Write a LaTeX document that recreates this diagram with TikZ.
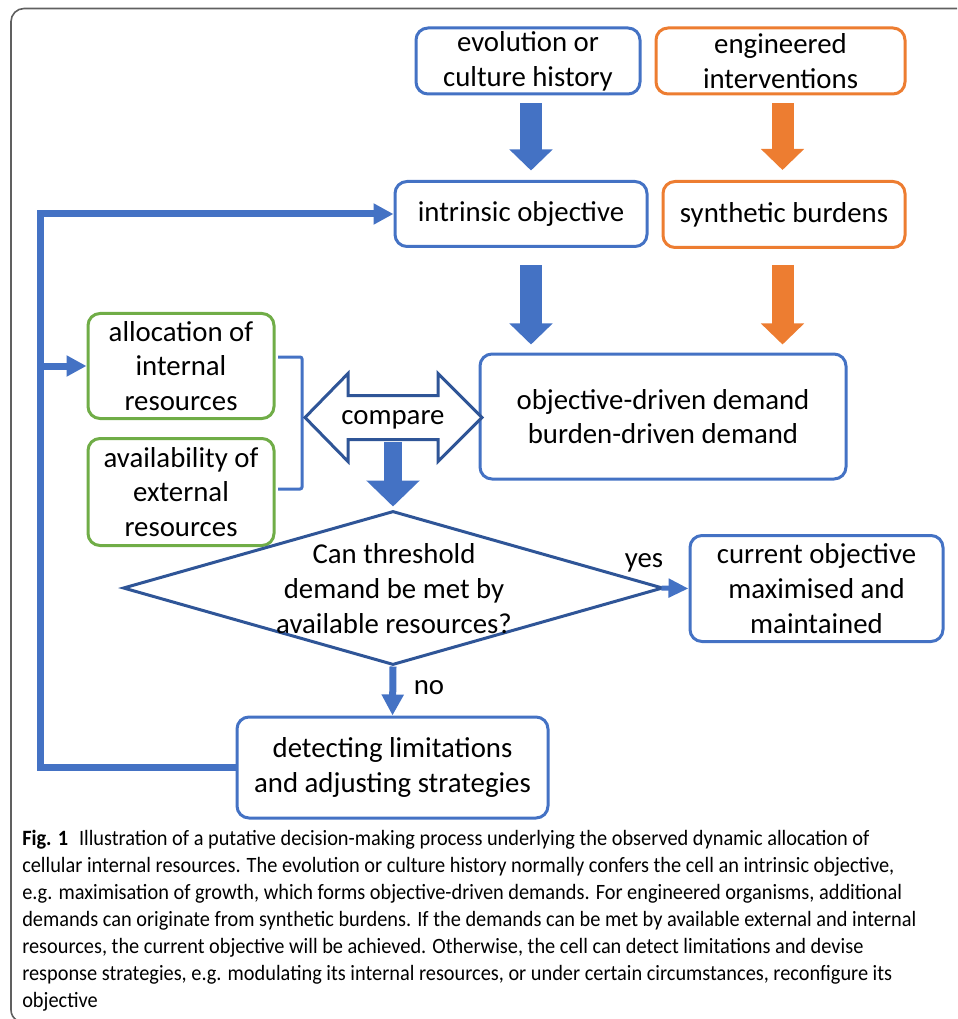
\documentclass[tikz,border=0pt]{standalone}
\usepackage{fontspec}
\setmainfont{Carlito}
\newfontfamily\capfont[FakeStretch=0.93]{Carlito}
\usetikzlibrary{arrows.meta,calc,shapes.geometric}
\definecolor{cblue}{HTML}{4472C4}
\definecolor{corange}{HTML}{ED7D31}
\definecolor{cgreen}{HTML}{70AD47}
\definecolor{cdark}{HTML}{2F5597}
\definecolor{cframe}{HTML}{606060}
\def\PX{0.75pt}
\begin{document}
\begin{tikzpicture}[x=0.75pt,y=-0.75pt,
  box/.style={draw, rounded corners=9pt, line width=2.25pt, align=center,
    font=\fontsize{21.6}{26}\selectfont, inner sep=0pt, fill=white},
  bluebox/.style={box, draw=cblue},
  orangebox/.style={box, draw=corange},
  greenbox/.style={box, draw=cgreen},
  lbl/.style={font=\fontsize{21.6}{26}\selectfont, inner sep=0pt, align=center},
  blk/.style={line width=22*\PX, -{Triangle[length=21*\PX, width=42*\PX]}},
  thinarrow/.style={cblue, line width=7*\PX, -{Triangle[length=20*\PX, width=20*\PX]}},
]
\useasboundingbox (0,0) rectangle (957,1019);
% frame
\draw[cframe, line width=1.2pt] (957,8.5) -- (24,8.5) arc[start angle=90, end angle=180, radius=9.75pt] -- (11,1010) arc[start angle=180, end angle=240, radius=9pt];

% boxes
\node[bluebox, minimum width=224*\PX, minimum height=66*\PX] (evo) at (528,61) {evolution or\\culture history};
\node[orangebox, minimum width=249*\PX, minimum height=66*\PX] (eng) at (780.5,61) {engineered\\interventions};
\node[bluebox, minimum width=252*\PX, minimum height=65*\PX] (intr) at (521,214) {intrinsic objective};
\node[orangebox, minimum width=242*\PX, minimum height=66*\PX] (synth) at (784,214.5) {synthetic burdens};
\node[bluebox, minimum width=366*\PX, minimum height=125*\PX] (demand) at (663,416.5) {objective-driven demand\\burden-driven demand};
\node[greenbox, minimum width=186*\PX, minimum height=105*\PX] (alloc) at (181,366) {allocation of\\internal\\resources};
\node[greenbox, minimum width=186*\PX, minimum height=107*\PX] (avail) at (181,492) {availability of\\external\\resources};
\node[bluebox, minimum width=253*\PX, minimum height=106*\PX] (current) at (816.5,588.5) {current objective\\maximised and\\maintained};
\node[bluebox, minimum width=311*\PX, minimum height=101*\PX] (detect) at (392.5,767.5) {detecting limitations\\and adjusting strategies};

% block arrows
\draw[blk, cblue] ($(evo.south)+(3,8)$) -- ($(intr.north)+(10,-9.5)$);
\draw[blk, cblue] ($(intr.south)+(10,17.5)$) -- ($(demand.north)+(-132,-8)$);
\draw[blk, corange] ($(eng.south)+(2,8)$) -- ($(synth.north)+(-1.5,-10)$);
\draw[blk, corange] ($(synth.south)+(-1.5,16)$) -- ($(demand.north)+(119.5,-8)$);

% bracket
\draw[cblue, line width=3*\PX, rounded corners=1.5pt] (278,357) -- (302,357) -- (302,489) -- (278,489);

% compare double arrow
\draw[cdark, line width=3*\PX, fill=white, line join=miter]
  (305,417.5) -- (348,373.5) -- (348,395.5) -- (438,395.5) -- (438,373.5) -- (482,417.5)
  -- (438,461.5) -- (438,439.5) -- (348,439.5) -- (348,461.5) -- cycle;
\node[lbl] (cmp) at (393,420) {compare};

% diamond
\node[diamond, draw=cdark, line width=3*\PX, minimum width=540*\PX, minimum height=154*\PX, inner sep=0pt] (dia) at (393,588) {};
\node[lbl, font=\fontsize{21.6}{26.25}\selectfont] (diatext) at (394,589) {Can threshold\\demand be met by\\available resources?};

\draw[cblue, line width=18*\PX, -{Triangle[length=26*\PX, width=52*\PX]}] ($(cmp)+(0,22)$) -- ($(dia.north)+(0,-3)$);

% yes / no
\draw[cblue, line width=5*\PX, -{Triangle[length=20*\PX, width=18*\PX]}] ($(dia.east)+(-3,0)$) -- (current.west);
\node[lbl] (yes) at (644,563) {yes};
\draw[thinarrow, -{Triangle[length=21*\PX, width=21*\PX]}] (dia.south) -- (detect.north);
\node[lbl] (no) at (429,688) {no};

% feedback loop
\coordinate (loopx) at (40,0);
\draw[thinarrow] (detect.west) -- (loopx |- detect.west) -- (loopx |- intr.west) -- (intr.west);
\draw[thinarrow] (loopx |- alloc.west) -- (alloc.west);

% caption
\node[anchor=north west, inner sep=0pt, align=left, font=\capfont\fontsize{16.4}{20.25}\selectfont] (cap) at (22,830)
{\textbf{Fig. 1}\enspace Illustration of a putative decision-making process underlying the observed dynamic allocation of\\
cellular internal resources. The evolution or culture history normally confers the cell an intrinsic objective,\\
e.g. maximisation of growth, which forms objective-driven demands. For engineered organisms, additional\\
demands can originate from synthetic burdens. If the demands can be met by available external and internal\\
resources, the current objective will be achieved. Otherwise, the cell can detect limitations and devise\\
response strategies, e.g. modulating its internal resources, or under certain circumstances, reconfigure its\\
objective};
\end{tikzpicture}
\end{document}
